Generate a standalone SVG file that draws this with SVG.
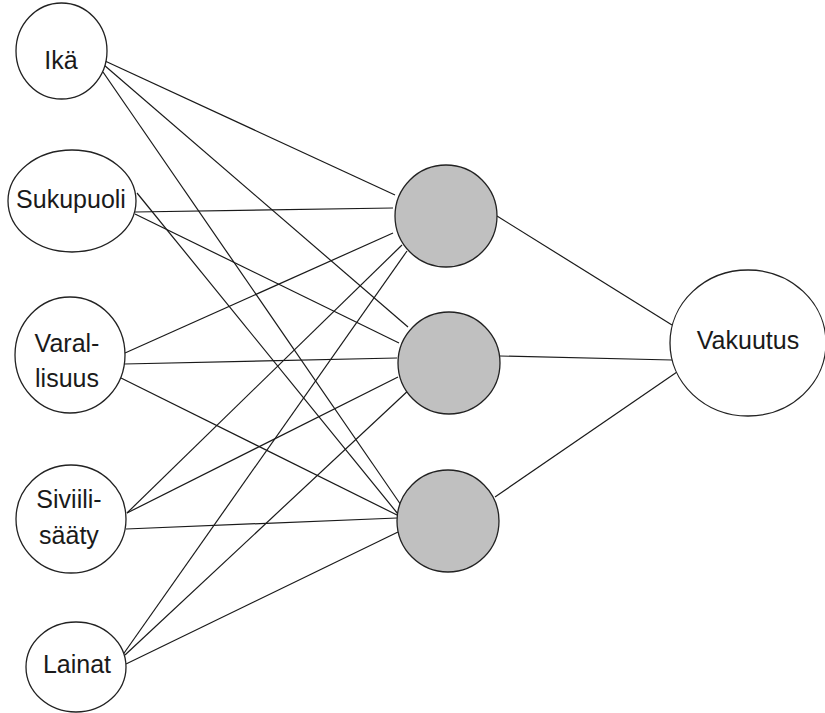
<svg xmlns="http://www.w3.org/2000/svg" width="825" height="713" viewBox="0 0 825 713">
<style>
.n{fill:#fff;stroke:#222;stroke-width:1.3}
.h{fill:#c0c0c0;stroke:#222;stroke-width:1.3}
.t{font-family:"Liberation Sans",Arial,sans-serif;font-size:25px;fill:#1a1a1a;text-anchor:middle}
#edges line{stroke:#1a1a1a;stroke-width:1.2}
</style>
<rect width="825" height="713" fill="#fff"/>
<g id="edges">
<line x1="105" y1="61" x2="395" y2="195"/>
<line x1="104" y1="65" x2="408" y2="327"/>
<line x1="103" y1="72" x2="401" y2="505"/>
<line x1="135" y1="212" x2="393" y2="208"/>
<line x1="135" y1="214" x2="399" y2="343"/>
<line x1="137" y1="193" x2="398" y2="514"/>
<line x1="125" y1="353" x2="393" y2="233"/>
<line x1="124" y1="364" x2="397" y2="358"/>
<line x1="121" y1="378" x2="397" y2="515"/>
<line x1="127" y1="513" x2="402" y2="245"/>
<line x1="127" y1="513" x2="398" y2="377"/>
<line x1="126" y1="529" x2="397" y2="518"/>
<line x1="122" y1="656" x2="407" y2="251"/>
<line x1="125" y1="655" x2="411" y2="388"/>
<line x1="126" y1="664" x2="398" y2="532"/>
<line x1="497" y1="216" x2="672" y2="325"/>
<line x1="500" y1="356" x2="672" y2="360"/>
<line x1="495" y1="497" x2="677" y2="372"/>
</g>
<g id="ika"><ellipse class="n" cx="61.5" cy="51" rx="45.5" ry="48"/><text class="t" x="61" y="69">Ikä</text></g>
<g id="sukupuoli"><ellipse class="n" cx="72" cy="201" rx="64" ry="51"/><text class="t" x="71" y="208">Sukupuoli</text></g>
<g id="varallisuus"><ellipse class="n" cx="70" cy="355" rx="55" ry="58"/><text class="t" x="67" y="352">Varal-</text><text class="t" x="67" y="387">lisuus</text></g>
<g id="siviilisaaty"><ellipse class="n" cx="71" cy="519" rx="55" ry="54"/><text class="t" x="69" y="508">Siviili-</text><text class="t" x="69" y="544">sääty</text></g>
<g id="lainat"><ellipse class="n" cx="76" cy="667" rx="50" ry="45"/><text class="t" x="77" y="673">Lainat</text></g>
<g id="h1"><circle class="h" cx="446" cy="216" r="51"/></g>
<g id="h2"><circle class="h" cx="449" cy="363" r="51"/></g>
<g id="h3"><circle class="h" cx="448" cy="521" r="51"/></g>
<g id="vakuutus"><ellipse class="n" cx="748" cy="343" rx="78" ry="73"/><text class="t" x="748" y="349">Vakuutus</text></g>
</svg>
